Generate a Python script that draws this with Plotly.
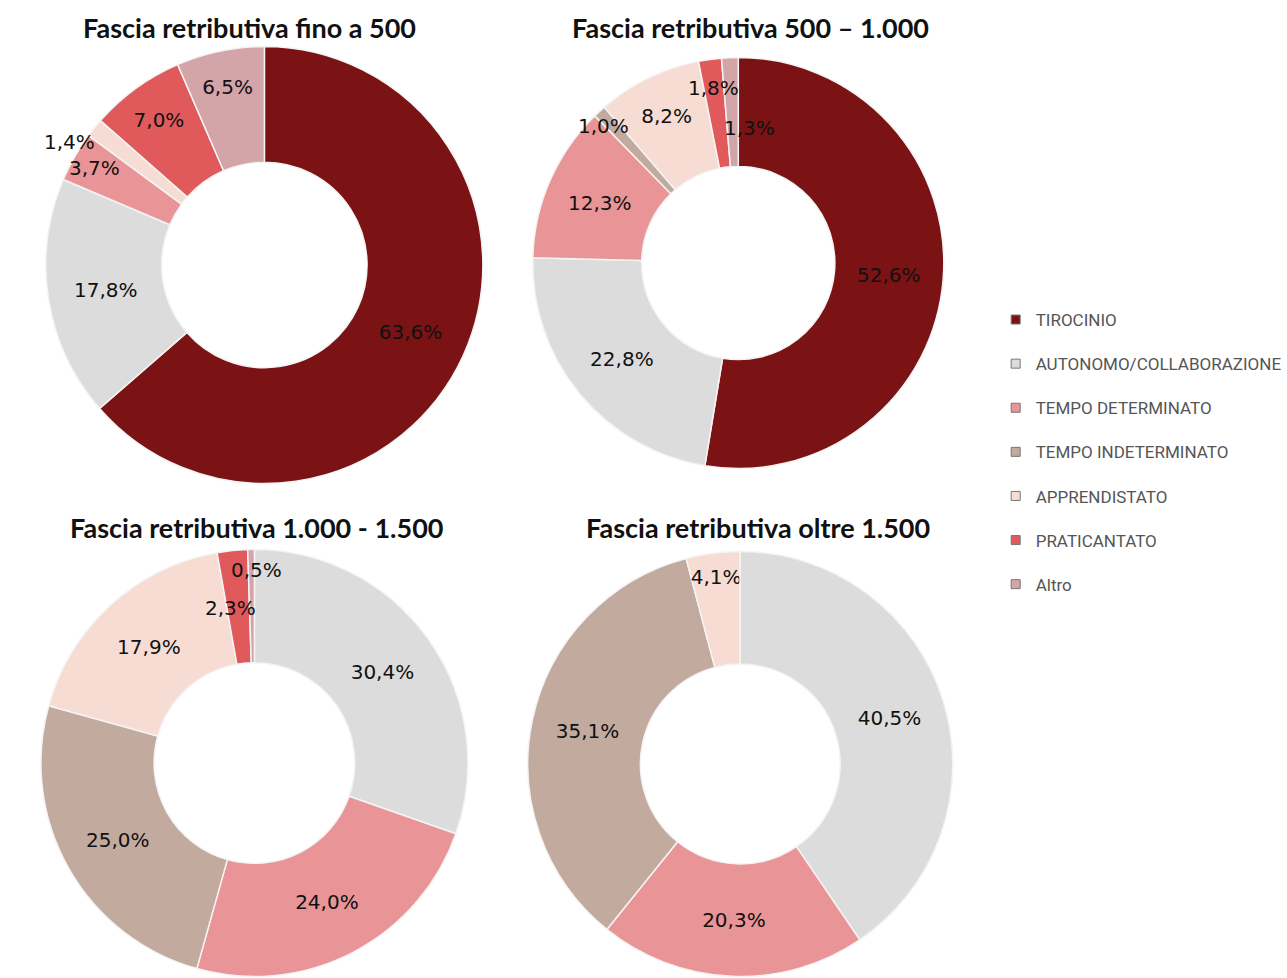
import math
import plotly.graph_objects as go

categories = ["TIROCINIO", "AUTONOMO/COLLABORAZIONE", "TEMPO DETERMINATO",
              "TEMPO INDETERMINATO", "APPRENDISTATO", "PRATICANTATO", "Altro"]
titles = ["Fascia retributiva fino a 500", "Fascia retributiva 500 \u2013 1.000",
          "Fascia retributiva 1.000 - 1.500", "Fascia retributiva oltre 1.500"]
fino_500 = [63.6, 17.8, 3.7, 0.0, 1.4, 7.0, 6.5]
da_500_a_1000 = [52.6, 22.8, 12.3, 1.0, 8.2, 1.8, 1.3]
da_1000_a_1500 = [0.0, 30.4, 24.0, 25.0, 17.9, 2.3, 0.5]
oltre_1500 = [0.0, 40.5, 20.3, 35.1, 4.1, 0.0, 0.0]

colors = ["#7b1315", "#dcdcdc", "#e99496", "#c2aa9f", "#f6dcd3", "#e05a5c", "#d3a4a8"]

series = [fino_500, da_500_a_1000, da_1000_a_1500, oltre_1500]

W, H = 1287, 978
# layout: (center x, center y, radius) in pixels for each donut
geo = [(265, 265, 219), (740, 263, 206), (255, 763, 214), (742, 764, 213)]
title_pos = [(250, 28), (752, 28), (258, 527), (760, 527)]
# label placement for thin slices: (chart, category) -> (radius factor, dx, dy)
thin_label_style = {(0, 4): (1.0, -25, 14), (1, 3): (0.9, -10, 0),
                    (1, 5): (0.86, 0, 0), (1, 6): (0.655, 17, 0),
                    (2, 5): (0.73, -8, 0), (2, 6): (0.9, 5, 0)}
LABEL_FONT = dict(family="DejaVu Sans", size=20, color="#111111")


def clamp(v):
    return min(1.0, max(0.0, v))


def fmt(v):
    return ("%.1f%%" % v).replace(".", ",")


fig = go.Figure()
annotations = []
for k, (vals, (cx, cy, r)) in enumerate(zip(series, geo)):
    txt = []
    for j, v in enumerate(vals):
        if v <= 0 or (k, j) in thin_label_style:
            txt.append("")
        else:
            txt.append(fmt(v))
    fig.add_trace(go.Pie(
        labels=categories, values=vals, text=txt, textinfo="text",
        sort=False, direction="clockwise", rotation=0,
        hole=0.47, showlegend=False,
        marker=dict(colors=colors, line=dict(color="#f4f4f4", width=1.5)),
        textposition="inside", insidetextorientation="horizontal",
        textfont=LABEL_FONT,
        domain=dict(x=[clamp((cx - r) / W), clamp((cx + r) / W)],
                    y=[clamp(1 - (cy + r) / H), clamp(1 - (cy - r) / H)]),
    ))
    total = sum(vals)
    for j, v in enumerate(vals):
        if (k, j) in thin_label_style and v > 0:
            rf, dx, dy = thin_label_style[(k, j)]
            theta = 2 * math.pi * (sum(vals[:j]) + v / 2) / total
            px = cx + rf * r * math.sin(theta) + dx
            py = cy - rf * r * math.cos(theta) + dy
            annotations.append(dict(text=fmt(v), x=px / W, y=1 - py / H,
                                    xref="paper", yref="paper", showarrow=False,
                                    xanchor="center", yanchor="middle",
                                    font=LABEL_FONT))

for i, (cat, col) in enumerate(zip(categories, colors)):
    fig.add_trace(go.Scatter(
        x=[None], y=[None], mode="markers", name=cat,
        legendgroup="g%d" % i,
        marker=dict(symbol="square", size=9, color=col,
                    line=dict(color="#777777", width=1)),
    ))

for t, (tx, ty) in zip(titles, title_pos):
    annotations.append(dict(text="<b>%s</b>" % t, x=tx / W, y=1 - ty / H,
                            xref="paper", yref="paper", showarrow=False,
                            xanchor="center", yanchor="middle",
                            font=dict(family="Lato", size=27, color="#111111")))

fig.update_layout(
    width=W, height=H, margin=dict(l=0, r=0, t=0, b=0),
    paper_bgcolor="white", plot_bgcolor="white",
    annotations=annotations,
    uniformtext=dict(minsize=20, mode="show"),
    xaxis=dict(visible=False), yaxis=dict(visible=False),
    legend=dict(x=998 / W, y=1 - 302 / H, xanchor="left", yanchor="top",
                traceorder="grouped", tracegroupgap=19,
                font=dict(family="Roboto", size=17, color="#555555"),
                itemwidth=30, bgcolor="rgba(0,0,0,0)"),
)

fig.write_html("out.html", config={"displayModeBar": False},
               post_script="document.body.style.margin='0px';")
